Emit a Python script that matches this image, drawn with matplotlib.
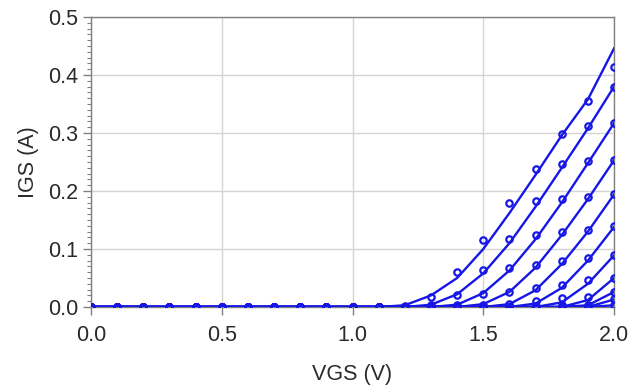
import matplotlib
matplotlib.use("Agg")
import matplotlib.pyplot as plt
from matplotlib.ticker import MultipleLocator, FormatStrFormatter

# Gate bias sweep (V)
vgs = [0.0, 0.1, 0.2, 0.3, 0.4, 0.5, 0.6, 0.7, 0.8, 0.9, 1.0,
       1.1, 1.2, 1.3, 1.4, 1.5, 1.6, 1.7, 1.8, 1.9, 2.0]

# Measured gate current (A), one list per bias condition
meas_0 = [0, 0, 0, 0, 0, 0, 0, 0, 0, 0, 0, 0, 0.002, 0.018, 0.060, 0.116, 0.179, 0.238, 0.298, 0.355, 0.414]
meas_1 = [0, 0, 0, 0, 0, 0, 0, 0, 0, 0, 0, 0, 0, 0.003, 0.020, 0.064, 0.118, 0.182, 0.247, 0.312, 0.380]
meas_2 = [0, 0, 0, 0, 0, 0, 0, 0, 0, 0, 0, 0, 0, 0, 0.003, 0.023, 0.068, 0.124, 0.187, 0.251, 0.317]
meas_3 = [0, 0, 0, 0, 0, 0, 0, 0, 0, 0, 0, 0, 0, 0, 0, 0.004, 0.026, 0.073, 0.130, 0.189, 0.253]
meas_4 = [0, 0, 0, 0, 0, 0, 0, 0, 0, 0, 0, 0, 0, 0, 0, 0, 0.005, 0.032, 0.079, 0.133, 0.195]
meas_5 = [0, 0, 0, 0, 0, 0, 0, 0, 0, 0, 0, 0, 0, 0, 0, 0, 0, 0.010, 0.038, 0.084, 0.139]
meas_6 = [0, 0, 0, 0, 0, 0, 0, 0, 0, 0, 0, 0, 0, 0, 0, 0, 0, 0.002, 0.015, 0.047, 0.089]
meas_7 = [0, 0, 0, 0, 0, 0, 0, 0, 0, 0, 0, 0, 0, 0, 0, 0, 0, 0, 0.003, 0.018, 0.050]
meas_8 = [0, 0, 0, 0, 0, 0, 0, 0, 0, 0, 0, 0, 0, 0, 0, 0, 0, 0, 0, 0.004, 0.026]
meas_9 = [0, 0, 0, 0, 0, 0, 0, 0, 0, 0, 0, 0, 0, 0, 0, 0, 0, 0, 0, 0, 0.013]
meas_10 = [0, 0, 0, 0, 0, 0, 0, 0, 0, 0, 0, 0, 0, 0, 0, 0, 0, 0, 0, 0, 0.003]

# Simulated gate current (A) from the model
sim_0 = [0, 0, 0, 0, 0, 0, 0, 0, 0, 0, 0, 0, 0.003, 0.020, 0.050, 0.100, 0.162, 0.228, 0.296, 0.358, 0.446]
sim_1 = [0, 0, 0, 0, 0, 0, 0, 0, 0, 0, 0, 0, 0, 0.004, 0.022, 0.058, 0.110, 0.173, 0.240, 0.308, 0.380]
sim_2 = [0, 0, 0, 0, 0, 0, 0, 0, 0, 0, 0, 0, 0, 0, 0.004, 0.024, 0.063, 0.117, 0.180, 0.248, 0.317]
sim_3 = [0, 0, 0, 0, 0, 0, 0, 0, 0, 0, 0, 0, 0, 0, 0, 0.005, 0.026, 0.068, 0.124, 0.186, 0.253]
sim_4 = [0, 0, 0, 0, 0, 0, 0, 0, 0, 0, 0, 0, 0, 0, 0, 0, 0.005, 0.029, 0.074, 0.130, 0.194]
sim_5 = [0, 0, 0, 0, 0, 0, 0, 0, 0, 0, 0, 0, 0, 0, 0, 0, 0, 0.006, 0.033, 0.080, 0.138]
sim_6 = [0, 0, 0, 0, 0, 0, 0, 0, 0, 0, 0, 0, 0, 0, 0, 0, 0, 0, 0.008, 0.040, 0.089]
sim_7 = [0, 0, 0, 0, 0, 0, 0, 0, 0, 0, 0, 0, 0, 0, 0, 0, 0, 0, 0, 0.012, 0.050]
sim_8 = [0, 0, 0, 0, 0, 0, 0, 0, 0, 0, 0, 0, 0, 0, 0, 0, 0, 0, 0, 0.003, 0.026]
sim_9 = [0, 0, 0, 0, 0, 0, 0, 0, 0, 0, 0, 0, 0, 0, 0, 0, 0, 0, 0, 0, 0.013]
sim_10 = [0, 0, 0, 0, 0, 0, 0, 0, 0, 0, 0, 0, 0, 0, 0, 0, 0, 0, 0, 0, 0.003]

measured = [meas_0, meas_1, meas_2, meas_3, meas_4, meas_5,
            meas_6, meas_7, meas_8, meas_9, meas_10]
simulated = [sim_0, sim_1, sim_2, sim_3, sim_4, sim_5,
             sim_6, sim_7, sim_8, sim_9, sim_10]

x_ticks = [0.0, 0.5, 1.0, 1.5, 2.0]
y_ticks = [0.0, 0.1, 0.2, 0.3, 0.4, 0.5]

blue = "#1616e6"
plt.rcParams["font.family"] = ["Liberation Sans", "DejaVu Sans"]

fig = plt.figure(figsize=(6.43, 3.85), dpi=100)
ax = fig.add_axes([0.1415, 0.2026, 0.955 - 0.1415, 0.9558 - 0.2026])

for sim in simulated:
    ax.plot(vgs, sim, color=blue, lw=1.7, zorder=3)
for meas in measured:
    ax.plot(vgs, meas, ls="none", marker="o", ms=4.6, mfc="none",
            mec=blue, mew=1.6, zorder=4)

ax.set_xlim(0, 2.0)
ax.set_ylim(0, 0.5)
ax.set_xticks(x_ticks)
ax.set_yticks(y_ticks)
ax.xaxis.set_major_formatter(FormatStrFormatter("%.1f"))
ax.yaxis.set_major_formatter(FormatStrFormatter("%.1f"))
ax.yaxis.set_minor_locator(MultipleLocator(0.01))

ax.grid(True, which="major", color="#d4d4d4", lw=1.0, zorder=0)
for side in ("left", "bottom", "top", "right"):
    ax.spines[side].set_color("#808080")
    ax.spines[side].set_linewidth(1.0)

ax.tick_params(axis="both", which="major", direction="out", length=6,
               width=1.0, color="#808080", labelsize=15.5, labelcolor="#2a2a2a")
ax.tick_params(axis="x", which="major", pad=7)
ax.tick_params(axis="y", which="major", pad=3)
ax.tick_params(axis="y", which="minor", direction="out", length=3,
               width=0.8, color="#808080")
ax.tick_params(axis="x", which="minor", length=0)

ax.set_xlabel("VGS (V)", fontsize=15.5, color="#2a2a2a", labelpad=13)
ax.set_ylabel("IGS (A)", fontsize=15.5, color="#2a2a2a", labelpad=7)

fig.savefig("out.png", dpi=100)
